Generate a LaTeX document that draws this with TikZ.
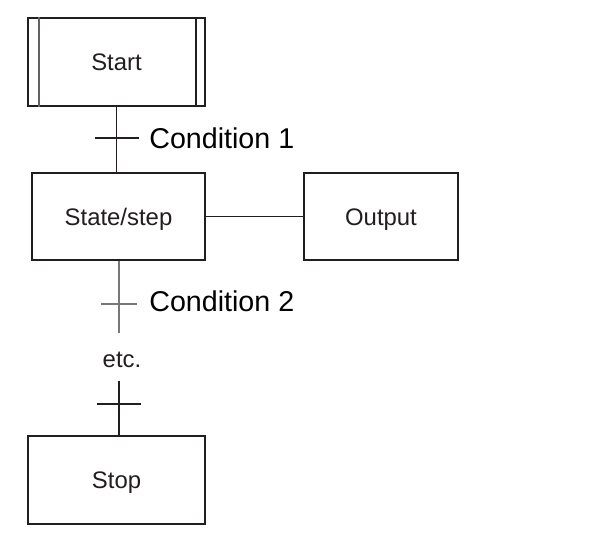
\documentclass[tikz,border=0pt]{standalone}
\usepackage{fontspec}
\setmainfont{Liberation Sans}
\usepackage{tikz}
\usetikzlibrary{positioning, calc}
\definecolor{ink}{RGB}{34,30,31}
\definecolor{wiregray}{RGB}{120,120,120}
\tikzset{
  stepbox/.style  = {rectangle, draw=ink, line width=1.1pt, fill=white,
                     minimum width=#1, minimum height=1.75cm, align=center,
                     text height=9.7pt, text depth=0pt,
                     text=ink, font=\fontsize{13.6}{16}\selectfont},
  stepbox/.default = 3.54cm,
  wire/.style     = {line width=1.1pt, draw=ink},
  thinwire/.style = {line width=0.8pt, draw=wiregray},
  cond/.style     = {anchor=west, inner sep=0pt, text=black,
                     font=\fontsize{16.3}{19}\selectfont},
}

\begin{document}
\begin{tikzpicture}[x=0.02cm, y=-0.02cm]
  \useasboundingbox (0,0) rectangle (600,543);

  \node[stepbox] (start) at (116.5,62) {Start};
  \node[stepbox=3.46cm] (state) at (118.5,216.5) {State/step};
  \node[stepbox=3.08cm] (output) at (381,216.5) {Output};
  \node[stepbox] (stop) at (116.5,480) {Stop};

  % initial step bars
  \draw[line width=0.8pt, draw=ink!70] ($(start.north west)+(12,0)$) -- ($(start.south west)+(12,0)$);
  \draw[line width=0.8pt, draw=ink] ($(start.north east)+(-10,0)$) -- ($(start.south east)+(-10,0)$);

  \coordinate (t1) at (117,138);
  \coordinate (t2) at (119,304);
  \coordinate (e2) at (119,333);
  \coordinate (e3) at (119,381);
  \coordinate (t3) at (119,404);

  \draw[wire] (start.south) -- (start.south |- state.north);
  \draw[wire] (t1) ++(-22,0) -- ++(44,0);
  \node[cond] (c1) at (149,138) {Condition 1};

  \draw[line width=0.8pt, draw=ink] (state.east) -- (output.west);

  \draw[thinwire] (state.south -| e2) -- (e2);
  \draw[thinwire] (t2) ++(-18,0) -- ++(36,0);
  \node[cond] (c2) at (149,301) {Condition 2};

  \node[text=ink, font=\fontsize{13.6}{16}\selectfont] (etc) at (122,360) {etc.};

  \draw[wire] (e3) -- (stop.north -| e3);
  \draw[wire] (t3) ++(-22,0) -- ++(44,0);
\end{tikzpicture}
\end{document}
